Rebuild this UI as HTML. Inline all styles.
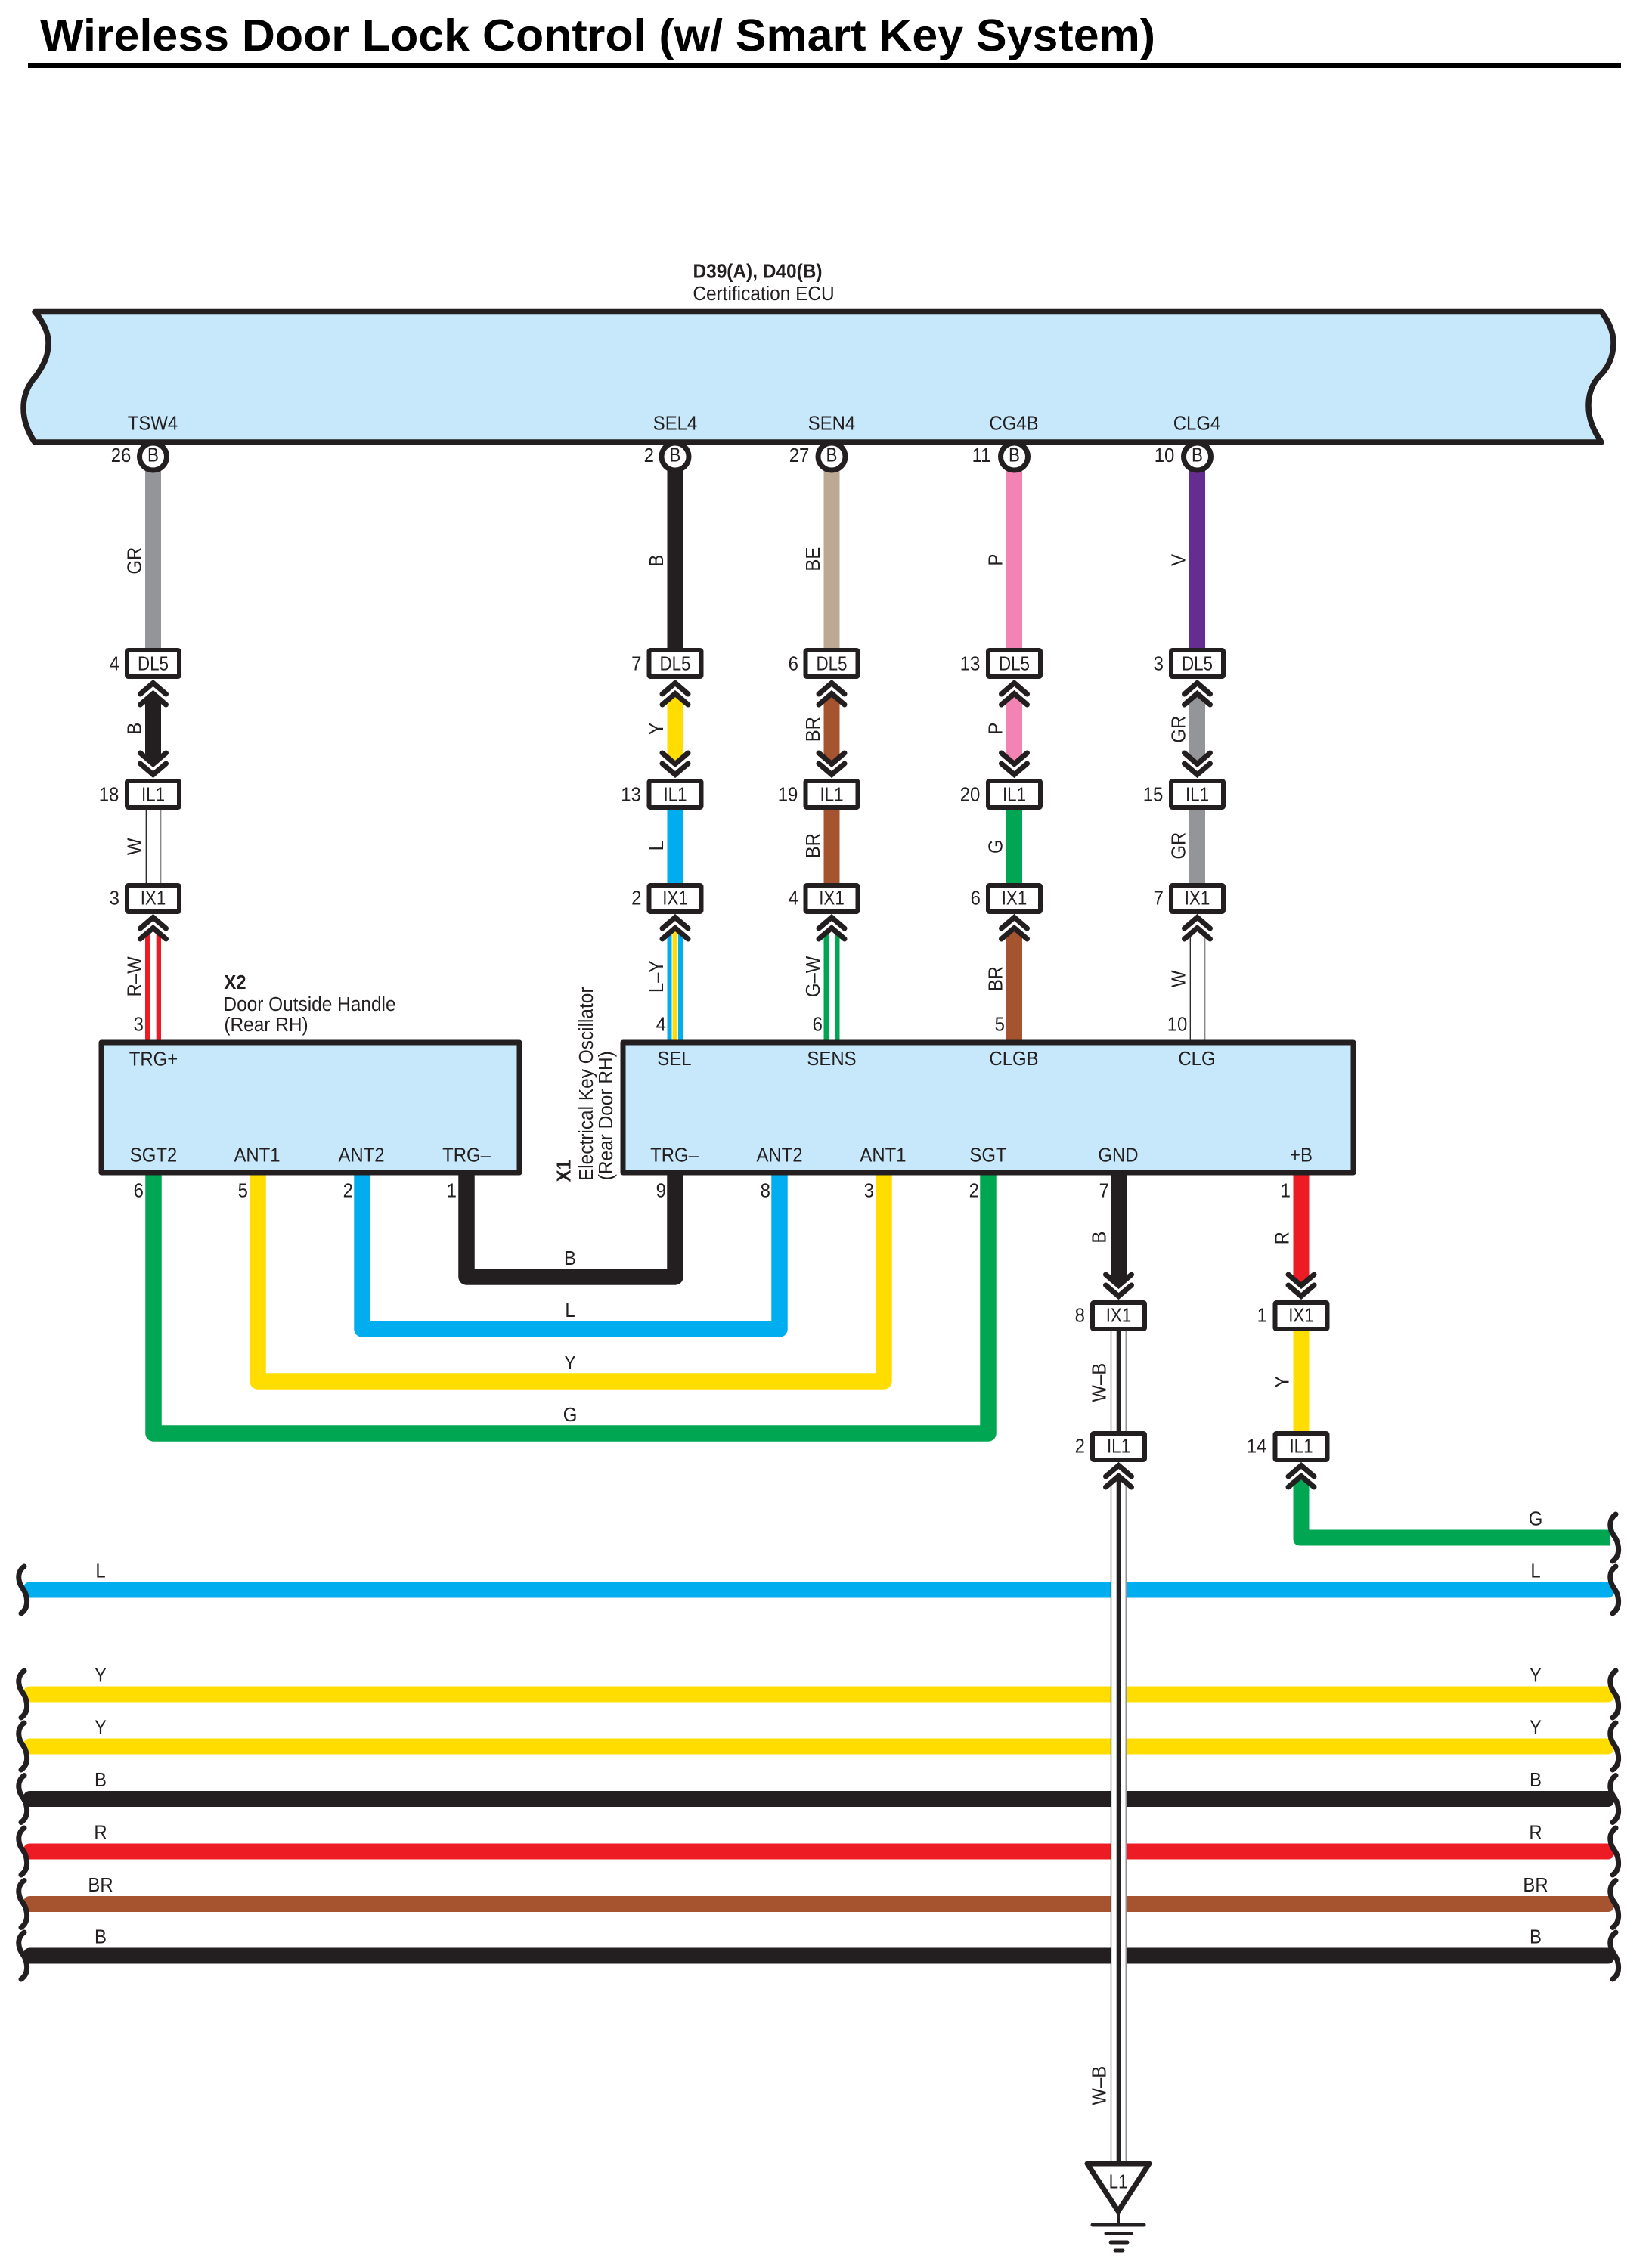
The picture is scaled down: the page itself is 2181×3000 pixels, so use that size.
<!DOCTYPE html>
<html lang="en">
<head>
<meta charset="utf-8">
<title>Wireless Door Lock Control (w/ Smart Key System)</title>
<style>
html,body{margin:0;padding:0;background:#fff;}
svg{display:block;}
text{font-family:"Liberation Sans",sans-serif;font-size:26px;fill:#231f20;}
.t,.l,.n,.c,.r,.rl,.rb{transform-box:fill-box;transform-origin:center;}
.t{text-anchor:middle;transform:scaleX(.92);}
.l{text-anchor:middle;transform:scaleX(.94);}
.c{text-anchor:middle;transform:scaleX(.86);}
.n{text-anchor:end;transform:translateX(1.5px) scaleX(.92);}
.r{text-anchor:middle;transform:rotate(-90deg) scaleX(.92);}
.rl{text-anchor:middle;transform:rotate(-90deg) scaleX(.94);}
.rb{text-anchor:middle;font-weight:bold;transform:rotate(-90deg) scaleX(.92);}
.b{font-weight:bold;}
</style>
</head>
<body>
<svg xmlns="http://www.w3.org/2000/svg" width="2181" height="3000" viewBox="0 0 2181 3000">
<defs>
<path id="s2" d="M-10.5,928 L0,920 L10.5,928 V1000 L0,1008 L-10.5,1000 Z"/>
<path id="s4" d="M-10.5,1238 L0,1230 L10.5,1238 V1378 H-10.5 Z"/>
<g id="cu" fill="none" stroke="#231f20" stroke-width="7" stroke-linecap="round">
<path d="M-17,20 L0,5.5 L17,20"/><path d="M-17,34 L0,19.5 L17,34"/>
</g>
<g id="cd" fill="none" stroke="#231f20" stroke-width="7" stroke-linecap="round">
<path d="M-17,-20 L0,-5.5 L17,-20"/><path d="M-17,-34 L0,-19.5 L17,-34"/>
</g>
<path id="sq" fill="none" stroke="#231f20" stroke-width="7" stroke-linecap="round" d="M32,-31 C26,-27 24,-20 25,-14 C26,-6 30,-3 33,3 C35,8 36,13 35.5,18 C35,24 32,28 28,31"/>
<path id="wL" d="M36,10.5 L31,2 L31,-4 Q33,-10.5 40,-10.5 H1469 V10.5 Z"/>
<path id="wR" d="M1490.7,-10.5 H2129 L2136,2 L2133,8 Q2130,10.5 2127,10.5 H1490.7 Z"/>
<rect id="bx" x="-34.5" y="0" width="69" height="35" rx="1.5" fill="#fff" stroke="#231f20" stroke-width="6" stroke-linejoin="round"/>
</defs>

<!-- Title -->
<text x="53" y="67" class="b" style="font-size:59px;fill:#000" textLength="1475" lengthAdjust="spacingAndGlyphs">Wireless Door Lock Control (w/ Smart Key System)</text>
<rect x="37" y="83" width="2107" height="7" fill="#000"/>

<!-- ECU -->
<text x="1002" y="367.5" class="l b">D39(A), D40(B)</text>
<text x="1010" y="397" class="l">Certification ECU</text>
<path fill="#c7e8fa" stroke="#231f20" stroke-width="7.5" stroke-linejoin="round" d="M46,412.5 H2118 C2128,425 2134,440 2134,453 C2134,470 2128,487 2113,500 C2105,510 2101,523 2101,537 C2101,555 2108,570 2118,585 H46 C36,570 31,555 31,540 C31,525 36,510 48,497 C60,480 64,468 64,453 C64,440 57,425 46,412.5 Z"/>

<!-- Segment 1 -->
<rect x="192" y="622" width="21" height="236" fill="#939598"/>
<rect x="882.5" y="622" width="21" height="236" fill="#231f20"/>
<rect x="1089.5" y="622" width="21" height="236" fill="#bda893"/>
<rect x="1331" y="622" width="21" height="236" fill="#f284b4"/>
<rect x="1573" y="622" width="21" height="236" fill="#662d91"/>

<!-- Segment 2 -->
<use href="#s2" x="202.5" fill="#231f20"/>
<use href="#s2" x="893" fill="#ffdd00"/>
<use href="#s2" x="1100" fill="#a65430"/>
<use href="#s2" x="1341.5" fill="#f284b4"/>
<use href="#s2" x="1583.5" fill="#939598"/>

<!-- Segment 3 -->
<g stroke-width="1.3" fill="none">
<line x1="193.3" x2="193.3" y1="1070" y2="1170" stroke="#231f20"/>
<line x1="212.7" x2="212.7" y1="1070" y2="1170" stroke="#808285"/>
</g>
<rect x="882.5" y="1070" width="21" height="100" fill="#00aeef"/>
<rect x="1089.5" y="1070" width="21" height="100" fill="#a65430"/>
<rect x="1331" y="1070" width="21" height="100" fill="#00a651"/>
<rect x="1573" y="1070" width="21" height="100" fill="#939598"/>

<!-- Segment 4 -->
<use href="#s4" x="202.5" fill="#ed1c24"/>
<rect x="198.7" y="1226" width="8" height="152" fill="#fff"/>
<use href="#s4" x="893" fill="#00aeef"/>
<rect x="888.5" y="1228" width="8.5" height="150" fill="#fff"/>
<path d="M889.5,1378 V1236 L893,1230 L896,1236 V1378 Z" fill="#ffdd00"/>
<use href="#s4" x="1100" fill="#00a651"/>
<rect x="1096" y="1226" width="8" height="152" fill="#fff"/>
<use href="#s4" x="1341.5" fill="#a65430"/>
<g stroke-width="1.3" fill="none">
<line x1="1574.3" x2="1574.3" y1="1240" y2="1378" stroke="#231f20"/>
<line x1="1593.7" x2="1593.7" y1="1240" y2="1378" stroke="#808285"/>
</g>

<!-- X2 to X1 loops -->
<g fill="none" stroke-width="21.5" stroke-linejoin="round">
<polyline points="203,1552 203,1896 1307,1896 1307,1552" stroke="#00a651"/>
<polyline points="341,1552 341,1827 1169,1827 1169,1552" stroke="#ffdd00"/>
<polyline points="479,1552 479,1758 1031,1758 1031,1552" stroke="#00aeef"/>
<polyline points="617,1552 617,1689 893,1689 893,1552" stroke="#231f20"/>
</g>

<!-- GND / +B wires -->
<path d="M1469,1552 H1490 V1690 L1479.5,1698 L1469,1690 Z" fill="#231f20"/>
<path d="M1710.5,1552 H1731.5 V1690 L1721,1698 L1710.5,1690 Z" fill="#ed1c24"/>
<rect x="1710.5" y="1758" width="21" height="137" fill="#ffdd00"/>
<path d="M1710.5,1963 L1721,1955 L1731.5,1963 V2023.5 H2130 V2044.5 H1720 Q1710.5,2044.5 1710.5,2035 Z" fill="#00a651"/>

<!-- Bundles -->
<use href="#wL" y="2103" fill="#00aeef"/><use href="#wR" y="2103" fill="#00aeef"/>
<use href="#wL" y="2241" fill="#ffdd00"/><use href="#wR" y="2241" fill="#ffdd00"/>
<use href="#wL" y="2310" fill="#ffdd00"/><use href="#wR" y="2310" fill="#ffdd00"/>
<use href="#wL" y="2379.5" fill="#231f20"/><use href="#wR" y="2379.5" fill="#231f20"/>
<use href="#wL" y="2449" fill="#ed1c24"/><use href="#wR" y="2449" fill="#ed1c24"/>
<use href="#wL" y="2518.5" fill="#a65430"/><use href="#wR" y="2518.5" fill="#a65430"/>
<use href="#wL" y="2587" fill="#231f20"/><use href="#wR" y="2587" fill="#231f20"/>

<use href="#sq" y="2103"/><use href="#sq" y="2241"/><use href="#sq" y="2310"/><use href="#sq" y="2379.5"/><use href="#sq" y="2449"/><use href="#sq" y="2518.5"/><use href="#sq" y="2587"/>
<use href="#sq" x="2105" y="2034"/><use href="#sq" x="2105" y="2103"/><use href="#sq" x="2105" y="2241"/><use href="#sq" x="2105" y="2310"/><use href="#sq" x="2105" y="2379.5"/><use href="#sq" x="2105" y="2449"/><use href="#sq" x="2105" y="2518.5"/><use href="#sq" x="2105" y="2587"/>

<!-- W-B wires -->
<g fill="none">
<line x1="1469.5" x2="1469.5" y1="1758" y2="1895" stroke="#231f20" stroke-width="1.3"/>
<line x1="1489.2" x2="1489.2" y1="1758" y2="1895" stroke="#808285" stroke-width="1.3"/>
<line x1="1479.7" x2="1479.7" y1="1758" y2="1895" stroke="#231f20" stroke-width="6"/>
<line x1="1469.5" x2="1469.5" y1="1958" y2="2862" stroke="#231f20" stroke-width="1.3"/>
<line x1="1489.2" x2="1489.2" y1="1958" y2="2862" stroke="#808285" stroke-width="1.3"/>
<line x1="1479.7" x2="1479.7" y1="1950" y2="2862" stroke="#231f20" stroke-width="6"/>
</g>

<!-- Chevrons -->
<use href="#cu" x="202.5" y="898"/><use href="#cd" x="202.5" y="1030"/><use href="#cu" x="202.5" y="1208"/>
<use href="#cu" x="893" y="898"/><use href="#cd" x="893" y="1030"/><use href="#cu" x="893" y="1208"/>
<use href="#cu" x="1100" y="898"/><use href="#cd" x="1100" y="1030"/><use href="#cu" x="1100" y="1208"/>
<use href="#cu" x="1341.5" y="898"/><use href="#cd" x="1341.5" y="1030"/><use href="#cu" x="1341.5" y="1208"/>
<use href="#cu" x="1583.5" y="898"/><use href="#cd" x="1583.5" y="1030"/><use href="#cu" x="1583.5" y="1208"/>
<use href="#cd" x="1479.5" y="1720"/><use href="#cd" x="1721" y="1720"/>
<use href="#cu" x="1479.5" y="1933"/><use href="#cu" x="1721" y="1933"/>

<!-- Pin circles -->
<g fill="#fff" stroke="#231f20" stroke-width="7">
<circle cx="202.5" cy="604" r="18"/><circle cx="893" cy="604" r="18"/><circle cx="1100" cy="604" r="18"/><circle cx="1341.5" cy="604" r="18"/><circle cx="1583.5" cy="604" r="18"/>
</g>

<!-- Connector boxes -->
<use href="#bx" x="202.5" y="860"/><use href="#bx" x="202.5" y="1033"/><use href="#bx" x="202.5" y="1171"/>
<use href="#bx" x="893" y="860"/><use href="#bx" x="893" y="1033"/><use href="#bx" x="893" y="1171"/>
<use href="#bx" x="1100" y="860"/><use href="#bx" x="1100" y="1033"/><use href="#bx" x="1100" y="1171"/>
<use href="#bx" x="1341.5" y="860"/><use href="#bx" x="1341.5" y="1033"/><use href="#bx" x="1341.5" y="1171"/>
<use href="#bx" x="1583.5" y="860"/><use href="#bx" x="1583.5" y="1033"/><use href="#bx" x="1583.5" y="1171"/>
<use href="#bx" x="1479.5" y="1723"/><use href="#bx" x="1721" y="1723"/>
<use href="#bx" x="1479.5" y="1896"/><use href="#bx" x="1721" y="1896"/>

<!-- Component boxes -->
<rect x="134" y="1379" width="553" height="172" fill="#c7e8fa" stroke="#231f20" stroke-width="7" stroke-linejoin="round"/>
<rect x="824" y="1379" width="966" height="172" fill="#c7e8fa" stroke="#231f20" stroke-width="7" stroke-linejoin="round"/>

<!-- L1 ground -->
<polygon points="1438,2862 1520,2862 1479,2925" fill="#fff" stroke="#231f20" stroke-width="7" stroke-linejoin="round"/>
<line x1="1479" x2="1479" y1="2925" y2="2943" stroke="#231f20" stroke-width="4"/>
<g stroke="#231f20" stroke-width="5" stroke-linecap="round">
<line x1="1445" x2="1513" y1="2943" y2="2943"/>
<line x1="1463" x2="1496" y1="2954.5" y2="2954.5"/>
<line x1="1469" x2="1491" y1="2966" y2="2966"/>
<line x1="1475" x2="1485" y1="2977" y2="2977"/>
</g>
<text x="1479" y="2894.5" class="c">L1</text>

<!-- ECU pin names -->
<text x="202" y="568.5" class="t">TSW4</text>
<text x="893" y="568.5" class="t">SEL4</text>
<text x="1100" y="568.5" class="t">SEN4</text>
<text x="1341" y="568.5" class="t">CG4B</text>
<text x="1583" y="568.5" class="t">CLG4</text>
<text x="202.5" y="610.5" class="c">B</text>
<text x="893" y="610.5" class="c">B</text>
<text x="1100" y="610.5" class="c">B</text>
<text x="1341.5" y="610.5" class="c">B</text>
<text x="1583.5" y="610.5" class="c">B</text>
<text x="173" y="611" class="n">26</text>
<text x="864" y="611" class="n">2</text>
<text x="1070" y="611" class="n">27</text>
<text x="1310" y="611" class="n">11</text>
<text x="1553" y="611" class="n">10</text>

<!-- Connector labels -->
<text x="202.5" y="886.5" class="c">DL5</text><text x="202.5" y="1059.5" class="c">IL1</text><text x="202.5" y="1196.5" class="c">IX1</text>
<text x="893" y="886.5" class="c">DL5</text><text x="893" y="1059.5" class="c">IL1</text><text x="893" y="1196.5" class="c">IX1</text>
<text x="1100" y="886.5" class="c">DL5</text><text x="1100" y="1059.5" class="c">IL1</text><text x="1100" y="1196.5" class="c">IX1</text>
<text x="1341.5" y="886.5" class="c">DL5</text><text x="1341.5" y="1059.5" class="c">IL1</text><text x="1341.5" y="1196.5" class="c">IX1</text>
<text x="1583.5" y="886.5" class="c">DL5</text><text x="1583.5" y="1059.5" class="c">IL1</text><text x="1583.5" y="1196.5" class="c">IX1</text>
<text x="1479.5" y="1748.5" class="c">IX1</text><text x="1721" y="1748.5" class="c">IX1</text>
<text x="1479.5" y="1921.5" class="c">IL1</text><text x="1721" y="1921.5" class="c">IL1</text>

<!-- Connector pin numbers -->
<text x="157" y="886.5" class="n">4</text><text x="157" y="1059.5" class="n">18</text><text x="157" y="1196.5" class="n">3</text>
<text x="847.5" y="886.5" class="n">7</text><text x="847.5" y="1059.5" class="n">13</text><text x="847.5" y="1196.5" class="n">2</text>
<text x="1055" y="886.5" class="n">6</text><text x="1055" y="1059.5" class="n">19</text><text x="1055" y="1196.5" class="n">4</text>
<text x="1296" y="886.5" class="n">13</text><text x="1296" y="1059.5" class="n">20</text><text x="1296" y="1196.5" class="n">6</text>
<text x="1538" y="886.5" class="n">3</text><text x="1538" y="1059.5" class="n">15</text><text x="1538" y="1196.5" class="n">7</text>
<text x="1434" y="1748.5" class="n">8</text><text x="1434" y="1921.5" class="n">2</text>
<text x="1675" y="1748.5" class="n">1</text><text x="1675" y="1921.5" class="n">14</text>

<!-- Wire colour labels (vertical) -->
<text x="178" y="750" class="r">GR</text><text x="178" y="972" class="r">B</text><text x="178" y="1128" class="r">W</text><text x="178" y="1300" class="r">R–W</text>
<text x="868.5" y="750" class="r">B</text><text x="868.5" y="972" class="r">Y</text><text x="868.5" y="1127" class="r">L</text><text x="868.5" y="1300" class="r">L–Y</text>
<text x="1075.5" y="748" class="r">BE</text><text x="1075.5" y="973" class="r">BR</text><text x="1075.5" y="1127" class="r">BR</text><text x="1075.5" y="1300" class="r">G–W</text>
<text x="1317" y="749" class="r">P</text><text x="1317" y="972" class="r">P</text><text x="1317" y="1128" class="r">G</text><text x="1317" y="1303" class="r">BR</text>
<text x="1559" y="749" class="r">V</text><text x="1559" y="973" class="r">GR</text><text x="1559" y="1127" class="r">GR</text><text x="1559" y="1303" class="r">W</text>
<text x="1454" y="1645" class="r">B</text><text x="1454" y="1837" class="r">W–B</text><text x="1454" y="2767" class="r">W–B</text>
<text x="1696" y="1646" class="r">R</text><text x="1696" y="1836" class="r">Y</text>

<!-- X2 labels -->
<text x="311" y="1308" class="t b">X2</text>
<text x="409.5" y="1337" class="l">Door Outside Handle</text>
<text x="352" y="1364" class="l">(Rear RH)</text>
<text x="189" y="1363.5" class="n">3</text>
<text x="203" y="1409.5" class="t">TRG+</text>
<text x="203" y="1536.5" class="t">SGT2</text>
<text x="340" y="1536.5" class="t">ANT1</text>
<text x="478" y="1536.5" class="t">ANT2</text>
<text x="617" y="1536.5" class="t">TRG–</text>
<text x="189" y="1583.5" class="n">6</text>
<text x="327" y="1583.5" class="n">5</text>
<text x="466" y="1583.5" class="n">2</text>
<text x="603" y="1583.5" class="n">1</text>

<!-- X1 labels -->
<text x="746" y="1557" class="rb">X1</text>
<text x="776" y="1442" class="rl">Electrical Key Oscillator</text>
<text x="802" y="1484" class="rl">(Rear Door RH)</text>
<text x="880" y="1363.5" class="n">4</text>
<text x="1087" y="1363.5" class="n">6</text>
<text x="1328" y="1363.5" class="n">5</text>
<text x="1570" y="1363.5" class="n">10</text>
<text x="892" y="1409" class="t">SEL</text>
<text x="1100" y="1409" class="t">SENS</text>
<text x="1341" y="1409" class="t">CLGB</text>
<text x="1583" y="1409" class="t">CLG</text>
<text x="892" y="1536.5" class="t">TRG–</text>
<text x="1031" y="1536.5" class="t">ANT2</text>
<text x="1168" y="1536.5" class="t">ANT1</text>
<text x="1307" y="1536.5" class="t">SGT</text>
<text x="1479" y="1536.5" class="t">GND</text>
<text x="1721" y="1536.5" class="t">+B</text>
<text x="880" y="1583.5" class="n">9</text>
<text x="1018" y="1583.5" class="n">8</text>
<text x="1155" y="1583.5" class="n">3</text>
<text x="1294" y="1583.5" class="n">2</text>
<text x="1466" y="1583.5" class="n">7</text>
<text x="1706" y="1583.5" class="n">1</text>

<!-- Loop labels -->
<text x="754" y="1673" class="t">B</text>
<text x="754" y="1742" class="t">L</text>
<text x="754" y="1811" class="t">Y</text>
<text x="754" y="1880" class="t">G</text>

<!-- Bundle labels -->
<g transform="translate(0,-1.5)">
<text x="2031" y="2019" class="t">G</text>
<text x="133" y="2088" class="t">L</text><text x="2031" y="2088" class="t">L</text>
<text x="133" y="2226" class="t">Y</text><text x="2031" y="2226" class="t">Y</text>
<text x="133" y="2295" class="t">Y</text><text x="2031" y="2295" class="t">Y</text>
<text x="133" y="2364.5" class="t">B</text><text x="2031" y="2364.5" class="t">B</text>
<text x="133" y="2434" class="t">R</text><text x="2031" y="2434" class="t">R</text>
<text x="133" y="2503.5" class="t">BR</text><text x="2031" y="2503.5" class="t">BR</text>
<text x="133" y="2572" class="t">B</text><text x="2031" y="2572" class="t">B</text>
</g>
</svg>
</body>
</html>
